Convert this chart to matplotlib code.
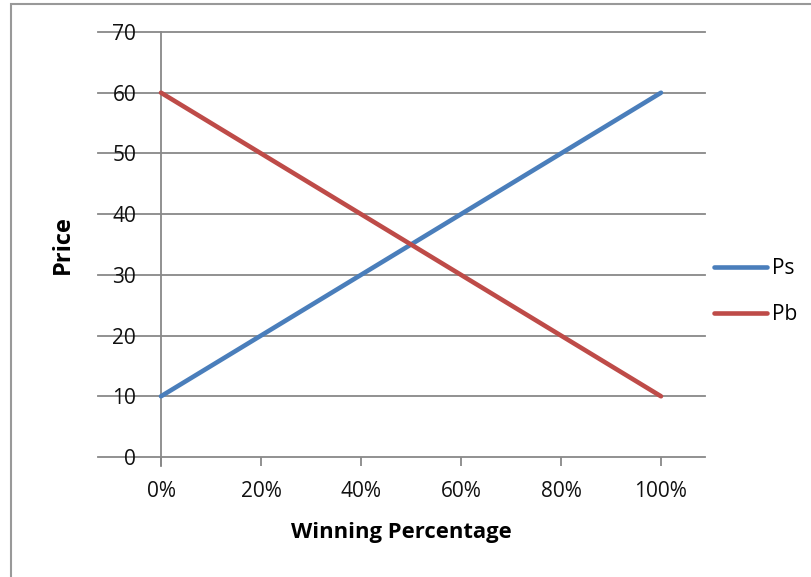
import numpy as np
import matplotlib
matplotlib.use("Agg")
import matplotlib.pyplot as plt
from matplotlib.patches import Rectangle
from matplotlib.ticker import FuncFormatter

plt.rcParams['font.family'] = ['Open Sans', 'DejaVu Sans']

# data
win_pct = [0.0, 0.2, 0.4, 0.6, 0.8, 1.0]
ps = [10, 20, 30, 40, 50, 60]
pb = [60, 50, 40, 30, 20, 10]
y_ticks = [0, 10, 20, 30, 40, 50, 60, 70]
x_ticks = [0.0, 0.2, 0.4, 0.6, 0.8, 1.0]

W, H = 811, 577
fig = plt.figure(figsize=(W / 100, H / 100), dpi=100)

# axes box in pixels: x 98..705, y 32..457
ax = fig.add_axes([98 / W, 1 - 457 / H, (705 - 98) / W, (457 - 32) / H])
ax.set_xlim((98 - 161) / 500, (705 - 161) / 500)
ax.set_ylim(0, 70)

grid_col = '#888888'
for v in y_ticks:
    ax.axhline(v, color=grid_col, lw=1.3, zorder=1, clip_on=False)
# vertical axis line, reaching below to the tick length
ax.axvline(0, ymin=-9 / 425, ymax=1, color=grid_col, lw=1.3, zorder=1, clip_on=False)

ax.plot(win_pct, ps, color='#4A7EBB', lw=3.3, solid_capstyle='round', label='Ps', zorder=3)
ax.plot(win_pct, pb, color='#BE4B48', lw=3.3, solid_capstyle='round', label='Pb', zorder=3)

for s in ax.spines.values():
    s.set_visible(False)

ax.set_xticks(x_ticks)
ax.xaxis.set_major_formatter(FuncFormatter(lambda v, p: f"{v:.0%}"))
ax.tick_params(axis='x', direction='out', length=6.5, width=1.3, color=grid_col,
               labelsize=15, pad=11, labelcolor='#111111')
ax.set_yticks(y_ticks)
ax.tick_params(axis='y', length=0, labelsize=15, pad=-27.5, labelcolor='#111111')

ax.set_xlabel('Winning Percentage', fontsize=15.8, fontweight='bold', labelpad=14.5)
ax.set_ylabel('Price', fontsize=17, fontweight='bold')
ax.yaxis.set_label_coords((75 - 98) / (705 - 98), 0.5)

fig.legend(loc='center left', bbox_to_anchor=(695 / W, 1 - 292 / H), frameon=False,
           fontsize=15, handlelength=2.55, handletextpad=0.25, labelspacing=1.2)

fig.patches.append(Rectangle((11 / W, -0.1), 1.0, 1 - 4 / H + 0.1, transform=fig.transFigure,
                             fill=False, edgecolor='#999999', lw=1.5))

fig.savefig('out.png', dpi=100)
